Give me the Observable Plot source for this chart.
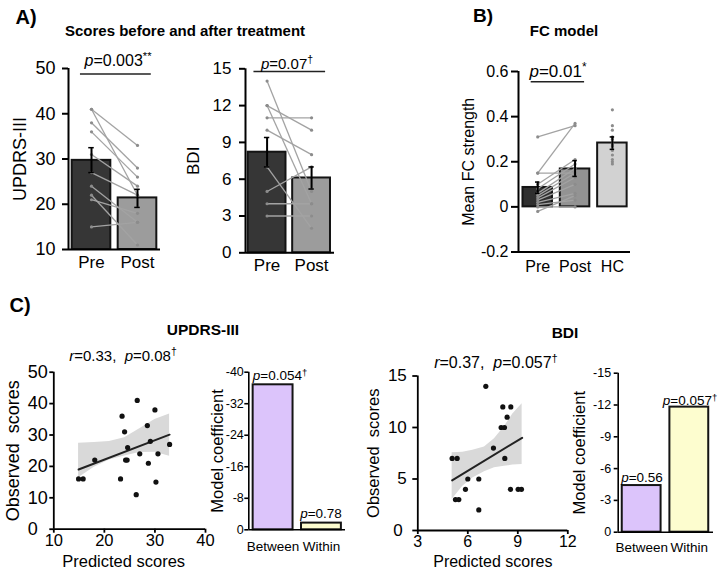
<!DOCTYPE html>
<html>
<head>
<meta charset="utf-8">
<script src="https://cdn.jsdelivr.net/npm/d3@7"></script>
<script src="https://cdn.jsdelivr.net/npm/@observablehq/plot@0.6"></script>
<style>
  body { margin: 0; background: #fff; }
  #root { position: relative; width: 720px; height: 570px; overflow: hidden; background: #fff;
          font-family: "Liberation Sans", Arial, sans-serif; color: #000; }
  #root svg { position: absolute; left: 0; top: 0; }
  .lbl { position: absolute; white-space: nowrap; transform: translate(-50%, -50%); line-height: 1; }
  .lbl sup { font-size: 0.7em; vertical-align: 0.5em; line-height: 0; }
</style>
</head>
<body>
<div id="root"></div>
<script>
// ---------------- DATA ----------------
// A) Scores before and after treatment
const treatCats = ["Pre", "Post"];
const updrsMean = [29.7, 21.4];
const updrsSemLo = [27.0, 19.3];
const updrsSemHi = [32.5, 23.3];
const updrsPre  = [41, 41, 38, 36, 31, 27, 24, 22, 21, 15];
const updrsPost = [33, 22, 28, 26, 24, 22, 16, 11, 18, 16];
const updrsTicks = [10, 20, 30, 40, 50];

const bdiMean = [8.2, 6.1];
const bdiSemLo = [7.0, 5.2];
const bdiSemHi = [9.4, 7.0];
const bdiPre  = [14, 12, 12, 11, 10, 7, 5, 4, 3];
const bdiPost = [5, 4, 10, 11, 8, 2, 7, 4, 3];
const bdiTicks = [0, 3, 6, 9, 12, 15];

// B) FC model
const fcCats = ["Pre", "Post", "HC"];
const fcMean = [0.086, 0.168, 0.283];
const fcSemLo = [0.06, 0.135, 0.255];
const fcSemHi = [0.11, 0.205, 0.31];
const fcPre  = [0.31, 0.15, 0.15, 0.10, 0.08, 0.06, 0.05, 0.04, 0.03, 0.02, 0.01, 0.00, -0.02];
const fcPost = [0.36, 0.37, 0.15, 0.21, 0.19, 0.17, 0.15, 0.13, 0.10, 0.06, 0.03, 0.00, 0.05];
const fcHC   = [0.43, 0.36, 0.34, 0.31, 0.30, 0.28, 0.27, 0.25, 0.23, 0.21, 0.20, 0.19];
const fcTicks = [-0.2, 0, 0.2, 0.4, 0.6];

// C) UPDRS-III prediction
const updrsPredicted = [14.9, 15.8, 18.1, 23.5, 23.2, 24.0, 24.2, 24.5, 24.6, 26.3, 26.5, 27.0, 28.5, 28.7, 29.1, 30.0, 30.6, 30.2, 32.9];
const updrsObserved  = [16, 16, 22, 36, 16, 31, 22, 22, 26, 11, 41, 24, 33, 21, 28, 38, 24, 15, 27];
const updrsFitX = [14.9, 32.9];
const updrsFitY = [19.0, 30.1];
const updrsBandX  = [14.9, 18, 21, 24, 27, 30, 32.9];
const updrsBandLo = [16.4, 19.7, 22.0, 23.3, 24.4, 24.5, 23.2];
const updrsBandHi = [27.4, 27.6, 27.9, 29.1, 32.0, 34.9, 36.7];
const updrsScX = [10, 20, 30, 40];
const updrsScY = [0, 10, 20, 30, 40, 50];

const coefCats = ["Between", "Within"];
const updrsCoef = [-36.8, -1.7];
const updrsCoefP = ["0.054†", "0.78"];
const updrsCoefTicks = [0, -8, -16, -24, -32, -40];

// C) BDI prediction
const bdiPredicted = [5.06, 5.36, 5.26, 5.46, 5.86, 6.0, 6.66, 6.66, 7.08, 7.54, 8.0, 8.2, 8.1, 8.58, 8.36, 8.22, 8.56, 9.02, 9.22];
const bdiObserved  = [7, 7, 3, 3, 4, 5, 5, 2, 14, 8, 10, 10, 12, 12, 11, 7, 4, 4, 4];
const bdiFitX = [5.06, 9.26];
const bdiFitY = [4.87, 9.0];
const bdiBandX  = [5.06, 5.7, 6.3, 7.0, 7.6, 8.2, 8.7, 9.26];
const bdiBandLo = [3.0, 4.3, 5.1, 5.7, 6.1, 6.25, 6.35, 6.4];
const bdiBandHi = [7.55, 7.6, 7.8, 8.1, 8.9, 10.1, 11.3, 12.3];
const bdiScX = [3, 6, 9, 12];
const bdiScY = [0, 5, 10, 15];

const bdiCoef = [-4.4, -11.8];
const bdiCoefP = ["0.56", "0.057†"];
const bdiCoefTicks = [0, -3, -6, -9, -12, -15];

// ---------------- RENDERING ----------------
const W = 720, H = 570;
const FONT = "'Liberation Sans', Arial, sans-serif";
const root = document.getElementById("root");

function place(frame, x, y, marks) {
  const [l, r, t, b] = frame;
  const svg = Plot.plot({
    width: W, height: H,
    marginLeft: l, marginRight: W - r, marginTop: t, marginBottom: H - b,
    x, y,
    style: {background: "transparent", fontFamily: FONT, color: "#000", overflow: "visible"},
    marks
  });
  root.appendChild(svg);
}

function lab(html, x, y, css = {}) {
  const d = document.createElement("div");
  d.className = "lbl";
  d.innerHTML = html;
  d.style.left = x + "px";
  d.style.top = y + "px";
  Object.assign(d.style, css);
  root.appendChild(d);
}

const fmtNum = d => (d === 0 ? "0" : String(d));

// rotated y-axis title, centred on the frame's vertical middle
const yTitle = (txt, dx, fs) =>
  Plot.text([txt], {text: d => d, frameAnchor: "left", dx, rotate: -90, fontSize: fs,
    textAnchor: "middle", lineAnchor: "middle"});

// generic bar panel
function barPanel(o) {
  const idx = d3.range(o.cats.length);
  const c = i => i + (o.inset[0] + o.inset[1]) / 2;
  const marks = [
    Plot.rect(idx, {x1: i => i + o.inset[0], x2: i => i + o.inset[1], y1: o.base, y2: i => o.means[i],
      fill: i => o.fills[i], stroke: "#141414", strokeWidth: o.barStroke || 2})
  ];
  if (o.pairs) {
    const [a, b] = o.pairs;
    const pi = d3.range(a.length);
    marks.push(Plot.link(pi, {x1: c(0), x2: c(1), y1: i => a[i], y2: i => b[i], stroke: "#a3a3a3", strokeWidth: 1.3}));
    marks.push(Plot.dot(a, {x: c(0), y: d => d, r: 1.6, fill: "#8c8c8c"}));
    marks.push(Plot.dot(b, {x: c(1), y: d => d, r: 1.6, fill: "#8c8c8c"}));
  }
  if (o.extraDots) {
    marks.push(Plot.dot(o.extraDots, {x: c(2), y: d => d, r: 1.6, fill: "#8c8c8c"}));
  }
  if (o.lo) {
    marks.push(Plot.ruleX(idx, {x: c, y1: i => o.lo[i], y2: i => o.hi[i], stroke: "#000", strokeWidth: 2}));
    marks.push(Plot.ruleY(idx, {y: i => o.hi[i], x1: i => c(i) - 0.06, x2: i => c(i) + 0.06, stroke: "#000", strokeWidth: 1.5}));
    marks.push(Plot.ruleY(idx, {y: i => o.lo[i], x1: i => c(i) - 0.06, x2: i => c(i) + 0.06, stroke: "#000", strokeWidth: 1.5}));
  }
  if (o.bracket) {
    marks.push(Plot.ruleY([o.bracket.y], {x1: o.bracket.x1, x2: o.bracket.x2, stroke: "#222", strokeWidth: 1.5}));
  }
  marks.push(
    Plot.ruleX([0], {stroke: "#000", strokeWidth: o.axisW || 2}),
    Plot.ruleY([o.yDomain[0]], {stroke: "#000", strokeWidth: o.axisW || 2}),
    Plot.axisY(o.yTicks, {tickSize: o.tickSize, tickPadding: o.tickPadding, fontSize: o.yFont,
      tickFormat: o.yFmt || fmtNum, strokeWidth: o.axisW || 2, label: null}),
    Plot.axisX(idx.map(c), {tickSize: 0, tickPadding: o.xPad, fontSize: o.xFont,
      tickFormat: d => o.cats[Math.floor(d)], label: null}),
    yTitle(o.yLabel, o.yLabelDx, o.yLabelFont)
  );
  place(o.frame, {domain: [0, o.cats.length]}, {domain: o.yDomain}, marks);
}

function scatterPanel(o) {
  const idx = d3.range(o.px.length);
  const bi = d3.range(o.bandX.length);
  const fi = d3.range(o.fitX.length);
  const y0 = o.yTicks[0];
  const yRest = o.yTicks.slice(1);
  const marks = [
    Plot.areaY(bi, {x: i => o.bandX[i], y1: i => o.bandLo[i], y2: i => o.bandHi[i], fill: "#d9d9d9"}),
    Plot.line(fi, {x: i => o.fitX[i], y: i => o.fitY[i], stroke: "#222", strokeWidth: 2}),
    Plot.dot(idx, {x: i => o.px[i], y: i => o.py[i], r: 2.6, fill: "#111"}),
    Plot.ruleX([o.xDomain[0]], {stroke: "#000", strokeWidth: 1.8}),
    Plot.ruleY([o.yDomain[0]], {stroke: "#000", strokeWidth: 1.8}),
    Plot.axisY(yRest, {tickSize: o.ytSize, tickPadding: o.ytPad, fontSize: o.tickFont, strokeWidth: 1.8, tickFormat: fmtNum, label: null}),
    Plot.axisY([y0], {tickSize: o.ytSize, tickPadding: o.ytPad0, fontSize: o.tickFont, strokeWidth: 1.8, tickFormat: fmtNum, label: null}),
    Plot.axisX(o.xTicks, {tickSize: 4, tickPadding: 1, fontSize: o.xTickFont, strokeWidth: 1.8, tickFormat: fmtNum, label: null}),
    yTitle("Observed\u00a0 scores", o.yLabelDx, o.labFont),
    Plot.text(["Predicted scores"], {text: d => d, frameAnchor: "bottom", dy: o.xLabelDy, dx: o.xLabelDx,
      fontSize: o.xLabFont, textAnchor: "middle", lineAnchor: "middle"})
  ];
  place(o.frame, {domain: o.xDomain}, {domain: o.yDomain}, marks);
}

// ---- Panel A: UPDRS-III
barPanel({
  frame: [68, 160, 68, 249], cats: treatCats, means: updrsMean, lo: updrsSemLo, hi: updrsSemHi,
  inset: [0.08, 0.92], base: 10, fills: ["#363636", "#9c9c9c"], pairs: [updrsPre, updrsPost],
  yDomain: [10, 50], yTicks: updrsTicks, yFont: 18, tickSize: 6, tickPadding: 7,
  xFont: 17, xPad: 6, yLabel: "UPDRS-III", yLabelDx: -48, yLabelFont: 18,
  bracket: {y: 48.8, x1: 0.26, x2: 1.8}
});
// ---- Panel A: BDI
barPanel({
  frame: [245, 334, 68.3, 252.3], cats: treatCats, means: bdiMean, lo: bdiSemLo, hi: bdiSemHi,
  inset: [0.06, 0.91], base: 0, fills: ["#363636", "#9c9c9c"], pairs: [bdiPre, bdiPost],
  yDomain: [0, 15], yTicks: bdiTicks, yFont: 17, tickSize: 6, tickPadding: 8,
  xFont: 17, xPad: 6, yLabel: "BDI", yLabelDx: -52, yLabelFont: 17,
  bracket: {y: 14.78, x1: 0.19, x2: 1.8}
});
// ---- Panel B: FC model
barPanel({
  frame: [518, 630, 71, 251.5], cats: fcCats, means: fcMean, lo: fcSemLo, hi: fcSemHi,
  inset: [0.12, 0.91], base: 0, fills: ["#2f2f2f", "#939393", "#d2d2d2"], pairs: [fcPre, fcPost], extraDots: fcHC,
  yDomain: [-0.2, 0.6], yTicks: fcTicks, yFont: 16, tickSize: 7, tickPadding: 3,
  yFmt: d => (d === 0 ? "0" : d.toFixed(1)),
  xFont: 16, xPad: 9, yLabel: "Mean FC strength", yLabelDx: -50, yLabelFont: 16,
  bracket: {y: 0.555, x1: 0.34, x2: 1.77}
});
// ---- Panel C: UPDRS scatter
scatterPanel({
  frame: [53.3, 205, 371.7, 528.7], xDomain: [10, 40], yDomain: [0, 50],
  px: updrsPredicted, py: updrsObserved, fitX: updrsFitX, fitY: updrsFitY,
  bandX: updrsBandX, bandLo: updrsBandLo, bandHi: updrsBandHi,
  xTicks: updrsScX, yTicks: updrsScY, tickFont: 18, xTickFont: 16.5, ytSize: 4, ytPad: 2, ytPad0: 12,
  labFont: 18, xLabFont: 16.5,
  yLabelDx: -41, xLabelDy: 32.5, xLabelDx: -6
});
// ---- Panel C: UPDRS coefficients
barPanel({
  frame: [248.3, 345, 371.7, 529.3], cats: coefCats, means: updrsCoef,
  inset: [0.09, 0.915], base: 0, fills: ["#dcc4fb", "#fdfdcf"], barStroke: 2,
  yDomain: [0, -40], yTicks: updrsCoefTicks, yFont: 12.5, tickSize: 4, tickPadding: 1, axisW: 1.6,
  xFont: 13.5, xPad: 12, yLabel: "Model coefficient", yLabelDx: -31, yLabelFont: 16.5
});
// ---- Panel C: BDI scatter
scatterPanel({
  frame: [417.3, 567.3, 375.5, 530], xDomain: [3, 12], yDomain: [0, 15],
  px: bdiPredicted, py: bdiObserved, fitX: bdiFitX, fitY: bdiFitY,
  bandX: bdiBandX, bandLo: bdiBandLo, bandHi: bdiBandHi,
  xTicks: bdiScX, yTicks: bdiScY, tickFont: 17, xTickFont: 16, ytSize: 5, ytPad: 6, ytPad0: 10,
  labFont: 16.5, xLabFont: 16,
  yLabelDx: -44, xLabelDy: 31, xLabelDx: 0
});
// ---- Panel C: BDI coefficients
barPanel({
  frame: [617.7, 713, 372.7, 531.7], cats: coefCats, means: bdiCoef,
  inset: [0.085, 0.9], base: 0, fills: ["#dcc4fb", "#fdfdcf"], barStroke: 2,
  yDomain: [0, -15], yTicks: bdiCoefTicks, yFont: 12.5, tickSize: 4, tickPadding: 3, axisW: 1.6,
  xFont: 13.5, xPad: 10, yLabel: "Model coefficient", yLabelDx: -38, yLabelFont: 16.5
});

// ---------------- TEXT ----------------
const sup = s => s.replace(/(\*+|†)$/, "<sup>$1</sup>");
lab("A)", 26, 17, {fontSize: "20px", fontWeight: "bold"});
lab("Scores before and after treatment", 185, 30, {fontSize: "15px", fontWeight: "bold"});
lab("B)", 483, 15, {fontSize: "19px", fontWeight: "bold"});
lab("FC model", 564, 30, {fontSize: "15px", fontWeight: "bold"});
lab("C)", 20, 305, {fontSize: "20px", fontWeight: "bold"});
lab("UPDRS-III", 203, 330, {fontSize: "15.5px", fontWeight: "bold"});
lab("BDI", 565, 333, {fontSize: "15.5px", fontWeight: "bold"});

lab("<i>p</i>=" + sup("0.003**"), 118, 61, {fontSize: "16px"});
lab("<i>p</i>=" + sup("0.07†"), 287, 63, {fontSize: "15px"});
lab("<i>p</i>=" + sup("0.01*"), 558, 71, {fontSize: "17px"});

lab("<i>r</i>=0.33,&nbsp; <i>p</i>=" + sup("0.08†"), 123, 355, {fontSize: "15px"});
lab("<i>r</i>=0.37,&nbsp; <i>p</i>=" + sup("0.057†"), 496, 363, {fontSize: "16px"});

lab("<i>p</i>=" + sup(updrsCoefP[0]), 280, 376, {fontSize: "13.5px"});
lab("<i>p</i>=" + sup(updrsCoefP[1]), 321, 514, {fontSize: "13.5px"});
lab("<i>p</i>=" + sup(bdiCoefP[0]), 642, 478, {fontSize: "13.5px"});
lab("<i>p</i>=" + sup(bdiCoefP[1]), 690, 401, {fontSize: "13.5px"});
</script>
</body>
</html>
